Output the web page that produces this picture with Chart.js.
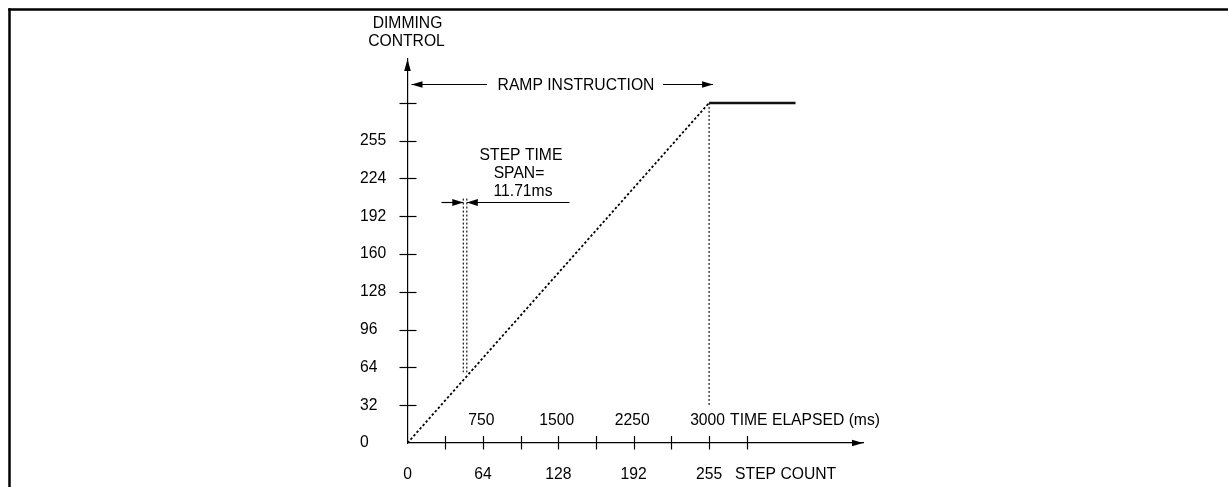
<!DOCTYPE html>
<html>
<head>
<meta charset="utf-8">
<script src="https://cdn.jsdelivr.net/npm/chart.js@4/dist/chart.umd.min.js"></script>
<style>
    html, body { margin: 0; padding: 0; background: #fff; }
    #wrap { width: 1228px; height: 487px; }
</style>
</head>
<body>
<div id="wrap"><canvas id="mychart" width="1228" height="487"></canvas></div>
<script>
// x in ms, y in dimming steps (drawn on an even 32-step grid)
var timeTicks = [0, 375, 750, 1125, 1500, 1875, 2250, 2625, 3000, 3375];
var timeLabels = ['', '', '750', '', '1500', '', '2250', '', '3000', ''];
var stepLabels = ['0', '', '64', '', '128', '', '192', '', '255', ''];
var levelTicks = [0, 32, 64, 96, 128, 160, 192, 224, 256, 288];
var levelLabels = ['0', '32', '64', '96', '128', '160', '192', '224', '255', ''];

var rampTime = [0, 3000];
var rampLevel = [0, 288];
var holdTime = [3000, 3860];
var holdLevel = [288, 288];
var dropTime = [3000, 3000];
var dropLevel = [288, 31];
var spanTime = [555, 590];
var spanLevel = [207, 60];

var FONT = "'Liberation Sans', Arial, sans-serif";
var FSIZE = 15.7;

function pts(xs, ys) {
    return xs.map(function(x, i) { return {x: x, y: ys[i]}; });
}

function head(ctx, x, y, ang, len, half) {
    ctx.save();
    ctx.translate(x, y);
    ctx.rotate(ang);
    ctx.beginPath();
    ctx.moveTo(0, 0);
    ctx.lineTo(-len, -half);
    ctx.lineTo(-len, half);
    ctx.closePath();
    ctx.fill();
    ctx.restore();
}

function line(ctx, x1, y1, x2, y2) {
    ctx.beginPath();
    ctx.moveTo(x1, y1);
    ctx.lineTo(x2, y2);
    ctx.stroke();
}

var decor = {
    id: 'decor',
    afterDraw: function(chart) {
        var ctx = chart.ctx;
        var xs = chart.scales.x, ys = chart.scales.y;
        var x0 = xs.getPixelForValue(0), y0 = ys.getPixelForValue(0);
        var ca = chart.chartArea;
        ctx.save();
        ctx.strokeStyle = '#000';
        ctx.fillStyle = '#000';

        // figure frame
        ctx.lineWidth = 2.5;
        line(ctx, 9.5, 8.3, 9.5, 487);
        line(ctx, 8.3, 9.5, 1228, 9.5);

        // tick marks crossing the axes
        ctx.lineWidth = 1.2;
        for (var i = 1; i < levelTicks.length; i++) {
            var py = Math.round(ys.getPixelForValue(levelTicks[i])) + 0.5;
            line(ctx, x0 - 8, py, x0 + 9, py);
        }
        for (var j = 1; j < timeTicks.length; j++) {
            var px = Math.round(xs.getPixelForValue(timeTicks[j])) + 0.5;
            line(ctx, px, y0 - 7, px, y0 + 6.5);
        }

        // axis arrow heads
        head(ctx, x0, ca.top, -Math.PI / 2, 12, 3.3);
        head(ctx, ca.right, y0, 0, 11, 3.3);

        ctx.font = FSIZE + 'px ' + FONT;
        ctx.textBaseline = 'middle';
        ctx.textAlign = 'center';
        ctx.fillText('DIMMING', x0, 24);
        ctx.fillText('CONTROL', x0 - 1, 42);

        // ramp instruction span
        var rEnd = xs.getPixelForValue(3000);
        ctx.fillText('RAMP INSTRUCTION', 576, 86);
        ctx.lineWidth = 1.2;
        line(ctx, x0 + 4, 84.5, 487, 84.5);
        line(ctx, 663, 84.5, rEnd + 4, 84.5);
        head(ctx, x0 + 4, 84.5, Math.PI, 11, 3.3);
        head(ctx, rEnd + 4, 84.5, 0, 11, 3.3);

        // step time span
        var s1 = xs.getPixelForValue(spanTime[0]), s2 = xs.getPixelForValue(spanTime[1]);
        ctx.fillText('STEP TIME', 521, 155.5);
        ctx.fillText('SPAN=', 519, 173.5);
        ctx.fillText('11.71ms', 523, 191.5);
        line(ctx, 441.5, 202.5, s1, 202.5);
        line(ctx, s2, 202.5, 569.5, 202.5);
        head(ctx, s1, 202.5, 0, 11, 3.5);
        head(ctx, s2, 202.5, Math.PI, 11, 3.5);

        // time elapsed row above the axis
        for (var k = 0; k < timeTicks.length; k++) {
            if (timeLabels[k]) ctx.fillText(timeLabels[k], xs.getPixelForValue(timeTicks[k]) - 1.5, 421);
        }
        ctx.textAlign = 'left';
        var t8 = xs.getPixelForValue(timeTicks[8]);
        ctx.fillText('TIME ELAPSED (ms)', t8 + 21, 421);
        ctx.fillText('STEP COUNT', t8 + 26, 475);
        ctx.restore();
    }
};

var config = {
    type: 'scatter',
    data: {
        datasets: [
            {
                data: pts(rampTime, rampLevel),
                showLine: true, borderColor: '#000', borderWidth: 1.8,
                borderDash: [2.4, 2.2], pointRadius: 0
            },
            {
                data: pts(holdTime, holdLevel),
                showLine: true, borderColor: '#111', borderWidth: 2.6, pointRadius: 0
            },
            {
                data: pts(dropTime, dropLevel),
                showLine: true, borderColor: '#000', borderWidth: 1.1,
                borderDash: [2, 2], pointRadius: 0
            },
            {
                data: pts([spanTime[0], spanTime[0]], spanLevel),
                showLine: true, borderColor: '#000', borderWidth: 1.1,
                borderDash: [2, 2], pointRadius: 0
            },
            {
                data: pts([spanTime[1], spanTime[1]], spanLevel),
                showLine: true, borderColor: '#000', borderWidth: 1.1,
                borderDash: [2, 2], pointRadius: 0
            }
        ]
    },
    options: {
        responsive: false,
        animation: false,
        layout: { padding: { left: 360, right: 365, top: 59, bottom: 0 } },
        plugins: { legend: { display: false }, tooltip: { enabled: false } },
        scales: {
            x: {
                type: 'linear', min: 0, max: 4531,
                grid: { display: false, drawTicks: false },
                border: { display: true, color: '#000', width: 1.2 },
                afterBuildTicks: function(scale) {
                    scale.ticks = timeTicks.map(function(v) { return {value: v}; });
                },
                afterFit: function(scale) { scale.height = 44; },
                ticks: {
                    autoSkip: false, maxRotation: 0, padding: 22.6, color: '#000',
                    font: { family: FONT, size: FSIZE },
                    callback: function(v, i) { return stepLabels[i]; }
                }
            },
            y: {
                type: 'linear', min: 0, max: 325.2,
                grid: { display: false, drawTicks: false },
                border: { display: true, color: '#000', width: 1.2 },
                afterBuildTicks: function(scale) {
                    scale.ticks = levelTicks.map(function(v) { return {value: v}; });
                },
                afterFit: function(scale) { scale.width = 47.5; },
                ticks: {
                    autoSkip: false, crossAlign: 'far', color: '#000',
                    font: { family: FONT, size: FSIZE },
                    callback: function(v, i) { return levelLabels[i]; }
                }
            }
        }
    },
    plugins: [decor]
};

var ctx = document.getElementById('mychart').getContext('2d');
window.myChart = new Chart(ctx, config);
</script>
</body>
</html>
